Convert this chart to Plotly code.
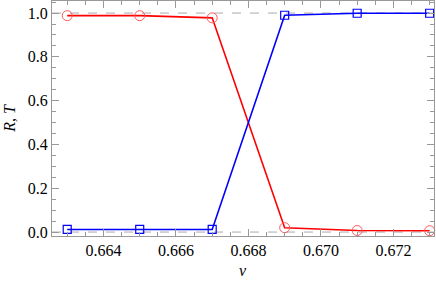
import plotly.graph_objects as go

v = [0.663, 0.665, 0.667, 0.669, 0.671, 0.673]
R = [0.988, 0.988, 0.978, 0.020, 0.007, 0.006]
T = [0.012, 0.012, 0.012, 0.990, 0.999, 0.999]
x_ticks = [0.664, 0.666, 0.668, 0.670, 0.672]
y_ticks = [0.0, 0.2, 0.4, 0.6, 0.8, 1.0]

fig = go.Figure()
fig.add_trace(go.Scatter(x=v, y=R, mode="lines+markers", cliponaxis=False,
                         line=dict(color="#ff0000", width=1.6),
                         marker=dict(symbol="circle-open", size=10, color="#ff5a5a",
                                     line=dict(width=1, color="#ff5a5a"))))
fig.add_trace(go.Scatter(x=v, y=T, mode="lines+markers", cliponaxis=False,
                         line=dict(color="#0000ff", width=1.6),
                         marker=dict(symbol="square-open", size=8, color="#0000ff",
                                     line=dict(width=1.2, color="#0000ff"))))

for yy in [0.0, 1.0]:
    fig.add_shape(type="line", xref="paper", x0=0, x1=1, yref="y", y0=yy, y1=yy,
                  line=dict(color="#aaaaaa", width=1, dash="dash"), layer="below")

font = dict(family="Liberation Serif", size=16, color="black")
axis_common = dict(showline=True, linecolor="#999999", linewidth=1, mirror="ticks",
                   ticks="inside", ticklen=7, tickcolor="#999999", showgrid=False,
                   zeroline=False, automargin=False, tickfont=font)
fig.update_xaxes(range=[0.66258, 0.67312], tickvals=x_ticks,
                 ticktext=[f"{t:.3f}" for t in x_ticks],
                 minor=dict(dtick=0.0005, tick0=0.663, ticks="inside", ticklen=4, tickcolor="#999999"),
                 **axis_common)
fig.update_yaxes(range=[-0.018, 1.055], tickvals=y_ticks,
                 ticktext=[f"{t:.1f}" for t in y_ticks],
                 minor=dict(dtick=0.05, tick0=0, ticks="inside", ticklen=4, tickcolor="#999999"),
                 **axis_common)
fig.add_annotation(text="<i>v</i>", xref="paper", yref="paper", x=0.5, y=-0.145,
                   xanchor="center", yanchor="middle", showarrow=False, font=font)
fig.add_annotation(text="<i>R</i>, <i>T</i>", xref="paper", yref="paper", x=-0.112, y=0.5,
                   xanchor="center", yanchor="middle", textangle=-90, showarrow=False, font=font)
fig.update_layout(width=436, height=287,
                  margin=dict(l=52, r=2, t=1, b=51, pad=0, autoexpand=False),
                  autosize=False, hovermode=False,
                  plot_bgcolor="white", paper_bgcolor="white", showlegend=False,
                  font=font)
fig.write_html("out.html", config={"displayModeBar": False, "staticPlot": True},
               post_script="document.body.style.margin='0';document.body.style.overflow='hidden';")
